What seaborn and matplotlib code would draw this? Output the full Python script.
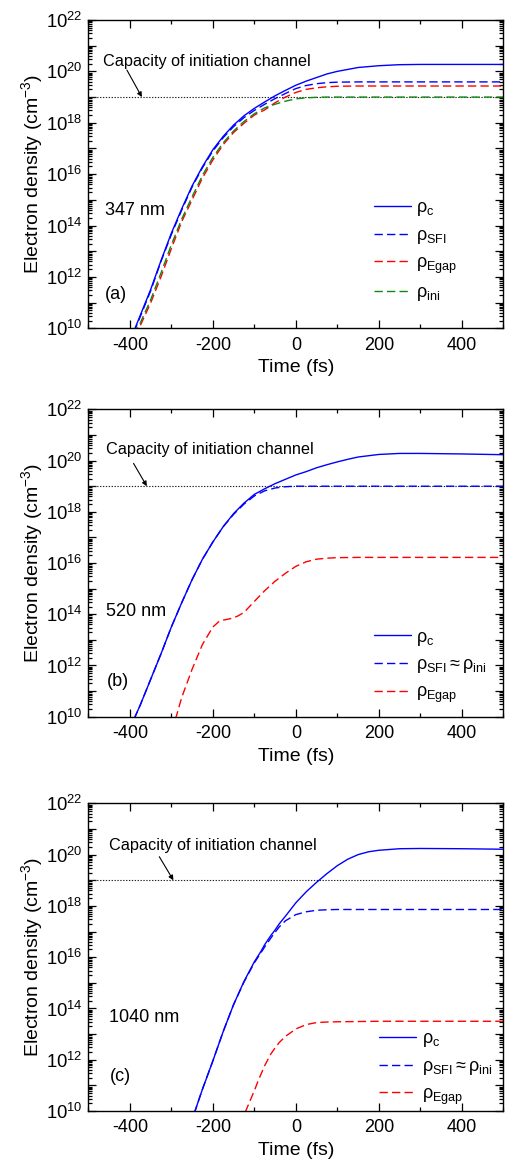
import numpy as np
import pandas as pd
import matplotlib
matplotlib.use("Agg")
import matplotlib.pyplot as plt
import matplotlib.ticker as mticker
import seaborn as sns

# ---------------- data (electron density exponents, log10 of cm^-3) ----------------
capacity = 1e19  # capacity of the initiation channel

# (a) 347 nm
t_a = [-390, -375, -350, -325, -300, -275, -250, -225, -200, -175, -150, -125, -100,
       -75, -50, -25, 0, 25, 50, 75, 100, 150, 200, 250, 300, 400, 500]
rho_c_a = [9.9, 10.5, 11.5, 12.63, 13.7, 14.65, 15.54, 16.29, 16.95, 17.47, 17.91, 18.27,
           18.56, 18.81, 19.05, 19.26, 19.46, 19.62, 19.76, 19.9, 20.0, 20.15, 20.22,
           20.26, 20.27, 20.27, 20.27]
rho_sfi_a = [9.85, 10.45, 11.45, 12.6, 13.65, 14.6, 15.5, 16.25, 16.9, 17.42, 17.85, 18.2,
             18.48, 18.72, 18.94, 19.14, 19.33, 19.45, 19.52, 19.56, 19.58, 19.59, 19.59,
             19.59, 19.59, 19.59, 19.59]
rho_egap_a = [9.7, 10.1, 10.98, 12.0, 13.1, 14.15, 15.0, 15.85, 16.55, 17.15, 17.62, 17.98,
              18.3, 18.5, 18.78, 19.0, 19.18, 19.3, 19.36, 19.4, 19.42, 19.43, 19.43,
              19.43, 19.43, 19.43, 19.43]
rho_ini_a = [9.75, 10.2, 11.1, 12.15, 13.25, 14.25, 15.12, 15.95, 16.65, 17.22, 17.68, 18.05,
             18.35, 18.58, 18.72, 18.84, 18.93, 18.97, 18.99, 19.0, 19.0, 19.0, 19.0,
             19.0, 19.0, 19.0, 19.0]

# (b) 520 nm
t_b = [-390, -375, -350, -325, -300, -275, -250, -225, -200, -175, -150, -125, -100,
       -75, -50, -25, 0, 25, 50, 75, 100, 125, 150, 200, 250, 300, 400, 500]
rho_c_b = [9.9, 10.45, 11.45, 12.45, 13.5, 14.45, 15.35, 16.15, 16.82, 17.42, 17.93, 18.34,
           18.68, 18.9, 19.1, 19.27, 19.44, 19.57, 19.72, 19.84, 19.95, 20.05, 20.14,
           20.24, 20.28, 20.28, 20.26, 20.23]
rho_sfi_b = [9.9, 10.45, 11.45, 12.45, 13.5, 14.45, 15.35, 16.15, 16.82, 17.42, 17.9, 18.3,
             18.62, 18.82, 18.93, 18.98, 19.0, 19.0, 19.0, 19.0, 19.0, 19.0, 19.0,
             19.0, 19.0, 19.0, 19.0, 19.0]
t_egap_b = [-290, -275, -250, -225, -200, -185, -175, -160, -150, -140, -125, -100, -75,
            -50, -25, 0, 25, 50, 75, 100, 150, 200, 300, 400, 500]
rho_egap_b = [9.9, 10.75, 11.85, 12.82, 13.5, 13.72, 13.77, 13.82, 13.86, 13.93, 14.07, 14.5,
              14.92, 15.29, 15.6, 15.87, 16.05, 16.15, 16.19, 16.21, 16.22, 16.22, 16.22,
              16.22, 16.22]

# (c) 1040 nm
t_c = [-245, -225, -200, -175, -150, -125, -100, -85, -75, -60, -50, -40, -25, 0, 25, 50,
       75, 100, 125, 150, 175, 200, 250, 300, 400, 500]
rho_c_c = [9.9, 10.85, 11.95, 13.1, 14.15, 15.05, 15.82, 16.2, 16.49, 16.85, 17.06, 17.3,
           17.6, 18.12, 18.55, 18.92, 19.26, 19.57, 19.82, 20.0, 20.11, 20.17, 20.23, 20.24,
           20.23, 20.21]
rho_sfi_c = [9.9, 10.85, 11.95, 13.1, 14.15, 15.03, 15.78, 16.15, 16.4, 16.75, 16.97, 17.18,
             17.42, 17.66, 17.77, 17.83, 17.85, 17.86, 17.86, 17.86, 17.86, 17.86, 17.86,
             17.86, 17.86, 17.86]
t_egap_c = [-122, -110, -100, -90, -75, -60, -50, -40, -25, 0, 25, 50, 75, 100, 200, 300,
            400, 500]
rho_egap_c = [9.95, 10.41, 10.79, 11.21, 11.77, 12.23, 12.46, 12.67, 12.91, 13.2, 13.37, 13.45,
              13.47, 13.48, 13.5, 13.5, 13.5, 13.5]

wavelengths = ["347 nm", "520 nm", "1040 nm"]
panel_tags = ["(a)", "(b)", "(c)"]

# ---------------- style ----------------
sns.set_theme(style="ticks")
plt.rcParams["font.family"] = ["Liberation Sans", "DejaVu Sans"]
plt.rcParams["mathtext.fontset"] = "custom"
plt.rcParams["mathtext.rm"] = "Liberation Sans"
plt.rcParams["mathtext.it"] = "Liberation Sans:italic"
plt.rcParams["mathtext.bf"] = "Liberation Sans:bold"
plt.rcParams["axes.unicode_minus"] = False
plt.rcParams["axes.linewidth"] = 1.0
plt.rcParams["axes.edgecolor"] = "black"
plt.rcParams["text.color"] = "black"
plt.rcParams["axes.labelcolor"] = "black"
plt.rcParams["xtick.color"] = "black"
plt.rcParams["ytick.color"] = "black"

BLUE, RED, GREEN = "#0000ff", "#ff0000", "#118811"
DASH = (0, (6, 3))

fig = plt.figure(figsize=(5.05, 11.68), dpi=100)
positions = [(0.1749, 0.7189, 0.8218, 0.2640),
             (0.1749, 0.3864, 0.8218, 0.2631),
             (0.1749, 0.0488, 0.8218, 0.2634)]
axes = [fig.add_axes(p) for p in positions]


def curve(ax, t, logrho, color, ls, label):
    df = pd.DataFrame({"t": t, "rho": np.power(10.0, logrho)})
    sns.lineplot(data=df, x="t", y="rho", ax=ax, color=color, linestyle=ls,
                 lw=1.0, label=label, sort=True, estimator=None)


curve(axes[0], t_a, rho_c_a, BLUE, "-", r"$\mathregular{\rho_c}$")
curve(axes[0], t_a, rho_sfi_a, BLUE, DASH, r"$\mathregular{\rho_{SFI}}$")
curve(axes[0], t_a, rho_egap_a, RED, DASH, r"$\mathregular{\rho_{Egap}}$")
curve(axes[0], t_a, rho_ini_a, GREEN, DASH, r"$\mathregular{\rho_{ini}}$")

curve(axes[1], t_b, rho_c_b, BLUE, "-", r"$\mathregular{\rho_c}$")
curve(axes[1], t_b, rho_sfi_b, BLUE, DASH, r"$\mathregular{\rho_{SFI} \approx \rho_{ini}}$")
curve(axes[1], t_egap_b, rho_egap_b, RED, DASH, r"$\mathregular{\rho_{Egap}}$")

curve(axes[2], t_c, rho_c_c, BLUE, "-", r"$\mathregular{\rho_c}$")
curve(axes[2], t_c, rho_sfi_c, BLUE, DASH, r"$\mathregular{\rho_{SFI} \approx \rho_{ini}}$")
curve(axes[2], t_egap_c, rho_egap_c, RED, DASH, r"$\mathregular{\rho_{Egap}}$")

# text anchors: (text x, text logy, arrow start, arrow tip)
cap_text = [(-464, 20.37, (-407, 20.05), (-371, 19.0)),
            (-457, 20.44, (-391, 19.89), (-359, 19.0)),
            (-449, 20.37, (-329, 19.92), (-295, 19.0))]
wl_pos = [(-460, 14.6), (-457, 14.1), (-449, 13.65)]
tag_pos = [(-460, 11.3), (-456, 11.37), (-448, 11.34)]
legend_anchor = [(0.688, 0.418), (0.688, 0.286), (0.701, 0.262)]


def ytick_fmt(v, pos):
    e = int(round(np.log10(v)))
    return r"$\mathregular{10^{%d}}$" % e if e % 2 == 0 else ""


for i, ax in enumerate(axes):
    ax.axhline(capacity, color="#222222", lw=0.8, linestyle=(0, (1.2, 1.4)), zorder=1)
    ax.set_yscale("log")
    ax.set_xlim(-500, 500)
    ax.set_ylim(1e10, 1e22)
    ax.xaxis.set_major_locator(mticker.MultipleLocator(200))
    ax.xaxis.set_minor_locator(mticker.MultipleLocator(100))
    ax.yaxis.set_major_locator(mticker.LogLocator(base=10, numticks=30))
    ax.yaxis.set_minor_locator(mticker.LogLocator(base=10, subs=np.arange(2, 10), numticks=30))
    ax.yaxis.set_major_formatter(mticker.FuncFormatter(ytick_fmt))
    ax.yaxis.set_minor_formatter(mticker.NullFormatter())
    ax.tick_params(which="both", direction="in", top=True, right=True, color="black",
                   width=0.9)
    ax.tick_params(which="major", length=5.5)
    ax.tick_params(which="minor", length=3)
    ax.tick_params(axis="x", labelsize=13, pad=6)
    ax.tick_params(axis="y", labelsize=13.3, pad=4)
    ax.set_xlabel("Time (fs)", fontsize=14, labelpad=4)
    ax.set_ylabel(r"Electron density (cm$^{\mathregular{-3}}$)", fontsize=14, labelpad=1)
    for s in ax.spines.values():
        s.set_visible(True)
        s.set_color("black")

    tx, ty, a0, a1 = cap_text[i]
    ax.text(tx, 10 ** ty, "Capacity of initiation channel", fontsize=11.7,
            va="center", ha="left")
    ax.annotate("", xy=(a1[0], 10 ** a1[1]), xytext=(a0[0], 10 ** a0[1]),
                arrowprops=dict(arrowstyle="-|>", color="black", lw=0.8,
                                mutation_scale=7, shrinkA=0, shrinkB=0))
    ax.text(wl_pos[i][0], 10 ** wl_pos[i][1], wavelengths[i], fontsize=13,
            va="center", ha="left")
    ax.text(tag_pos[i][0], 10 ** tag_pos[i][1], panel_tags[i], fontsize=13,
            va="center", ha="left")

    ax.legend(loc="upper left", bbox_to_anchor=legend_anchor[i], frameon=False,
              fontsize=13, handlelength=2.05, handletextpad=0.3, labelspacing=0.48,
              borderpad=0, borderaxespad=0)

fig.savefig("out.png", dpi=100)
